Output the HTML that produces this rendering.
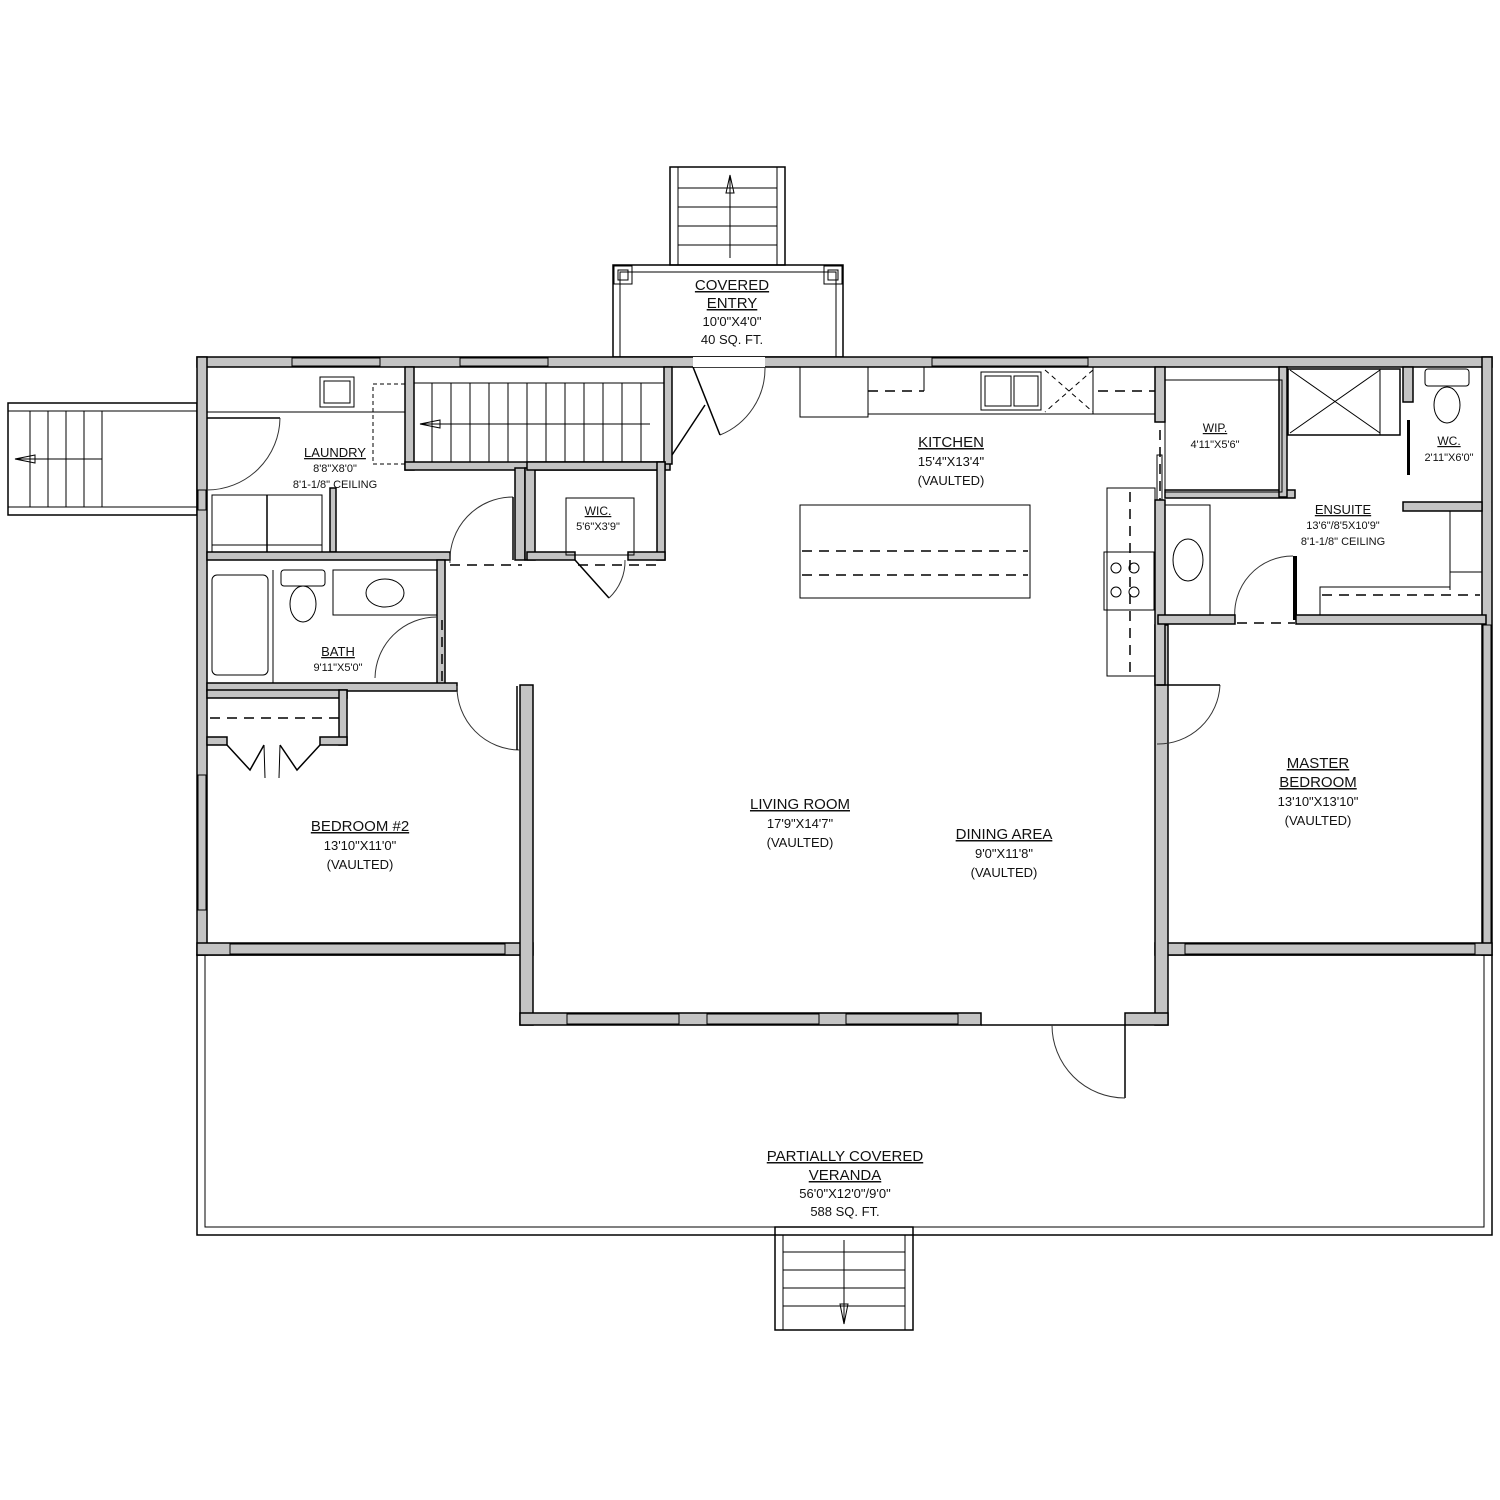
<!DOCTYPE html>
<html><head><meta charset="utf-8"><style>
html,body{margin:0;padding:0;background:#fff}
svg{display:block}
.w{fill:#c4c4c4;stroke:#000;stroke-width:1.5}
.l{fill:none;stroke:#000;stroke-width:1.5}
.t{fill:none;stroke:#000;stroke-width:1}
.d{fill:none;stroke:#000;stroke-width:1.5;stroke-dasharray:10 7}
.a{fill:none;stroke:#333;stroke-width:1}
text{font-family:"Liberation Sans",sans-serif;fill:#111;text-anchor:middle}
.n{font-size:15px;text-decoration:underline}
.s{font-size:13px}
.x{font-size:11px}
</style></head><body>
<svg width="1500" height="1500" viewBox="0 0 1500 1500" xmlns="http://www.w3.org/2000/svg">
<!-- top stairs -->
<rect x="670" y="167" width="115" height="98" class="l"/>
<rect x="670" y="167" width="8" height="98" class="t"/><rect x="777" y="167" width="8" height="98" class="t"/>
<g class="t"><line x1="678" y1="188" x2="777" y2="188"/><line x1="678" y1="207" x2="777" y2="207"/><line x1="678" y1="226" x2="777" y2="226"/><line x1="678" y1="245" x2="777" y2="245"/><line x1="730" y1="175" x2="730" y2="258"/></g>
<path d="M726 193 L730 175 L734 193 Z" class="t"/>
<!-- covered entry -->
<rect x="613" y="265" width="230" height="92" class="l"/>
<rect x="620" y="272" width="216" height="85" class="t"/>
<rect x="614" y="266" width="18" height="18" class="t"/><rect x="618" y="270" width="10" height="10" class="t"/>
<rect x="824" y="266" width="18" height="18" class="t"/><rect x="828" y="270" width="10" height="10" class="t"/>
<!-- left stairs -->
<rect x="8" y="403" width="189" height="112" class="l"/>
<g class="t"><line x1="8" y1="411" x2="197" y2="411"/><line x1="8" y1="507" x2="197" y2="507"/>
<line x1="30" y1="411" x2="30" y2="507"/><line x1="48" y1="411" x2="48" y2="507"/><line x1="66" y1="411" x2="66" y2="507"/><line x1="84" y1="411" x2="84" y2="507"/><line x1="102" y1="411" x2="102" y2="507"/><line x1="102" y1="459" x2="15" y2="459"/></g>
<path d="M35 455 L15 459 L35 463 Z" class="t"/>
<!-- veranda -->
<path d="M520 955 L197 955 L197 1235 L1492 1235 L1492 955 L1168 955" class="l"/>
<path d="M205 955 L205 1227 L1484 1227 L1484 955" class="t"/>
<rect x="775" y="1227" width="138" height="103" class="l"/>
<g class="t"><line x1="783" y1="1235" x2="783" y2="1330"/><line x1="905" y1="1235" x2="905" y2="1330"/>
<line x1="783" y1="1252" x2="905" y2="1252"/><line x1="783" y1="1270" x2="905" y2="1270"/><line x1="783" y1="1288" x2="905" y2="1288"/><line x1="783" y1="1306" x2="905" y2="1306"/><line x1="844" y1="1240" x2="844" y2="1322"/></g>
<path d="M840 1304 L844 1324 L848 1304 Z" class="t"/>
<!-- outer walls -->
<rect x="197" y="357" width="1295" height="10" class="w"/>
<rect x="292" y="358" width="88" height="8" fill="#fff" class="t"/>
<rect x="460" y="358" width="88" height="8" fill="#fff" class="t"/>
<rect x="932" y="358" width="156" height="8" fill="#fff" class="t"/>
<rect x="197" y="357" width="10" height="598" class="w"/>
<rect x="198" y="490" width="8" height="20" fill="#fff" class="t"/>
<rect x="198" y="775" width="8" height="135" fill="#fff" class="t"/>
<rect x="1482" y="357" width="10" height="598" class="w"/>
<rect x="1483" y="625" width="8" height="320" fill="#fff" class="t"/>
<rect x="197" y="943" width="336" height="12" class="w"/>
<rect x="230" y="944" width="275" height="10" fill="#fff" class="t"/>
<rect x="1155" y="943" width="337" height="12" class="w"/>
<rect x="1185" y="944" width="290" height="10" fill="#fff" class="t"/>
<rect x="520" y="685" width="13" height="340" class="w"/>
<rect x="1155" y="625" width="13" height="400" class="w"/>
<rect x="520" y="1013" width="461" height="12" class="w"/>
<rect x="567" y="1014" width="112" height="10" fill="#fff" class="t"/>
<rect x="707" y="1014" width="112" height="10" fill="#fff" class="t"/>
<rect x="846" y="1014" width="112" height="10" fill="#fff" class="t"/>
<rect x="1125" y="1013" width="43" height="12" class="w"/>
<line x1="981" y1="1025" x2="1125" y2="1025" class="l"/>
<line x1="1125" y1="1025" x2="1125" y2="1098" class="l"/>
<path d="M1052 1025 A73 73 0 0 0 1125 1098" class="a"/>
<!-- entry door -->
<path d="M765 367 A72 72 0 0 1 720 435" class="a"/>
<line x1="693" y1="367" x2="720" y2="435" class="l"/>
<rect x="693" y="357" width="72" height="10" fill="#fff"/>
<!-- laundry -->
<rect x="207" y="367" width="198" height="45" class="t"/>
<rect x="320" y="377" width="34" height="30" class="t"/><rect x="324" y="381" width="26" height="22" class="t"/>
<rect x="373" y="384" width="32" height="80" class="t" stroke="#999" stroke-dasharray="4 3"/>
<rect x="405" y="367" width="9" height="103" class="w"/>
<rect x="405" y="462" width="265" height="8" class="w"/>
<rect x="414" y="383" width="250" height="79" class="t"/>
<g class="t"><line x1="432" y1="383" x2="432" y2="462"/><line x1="451" y1="383" x2="451" y2="462"/><line x1="470" y1="383" x2="470" y2="462"/><line x1="489" y1="383" x2="489" y2="462"/><line x1="508" y1="383" x2="508" y2="462"/><line x1="527" y1="383" x2="527" y2="462"/><line x1="546" y1="383" x2="546" y2="462"/><line x1="565" y1="383" x2="565" y2="462"/><line x1="584" y1="383" x2="584" y2="462"/><line x1="603" y1="383" x2="603" y2="462"/><line x1="622" y1="383" x2="622" y2="462"/><line x1="641" y1="383" x2="641" y2="462"/><line x1="420" y1="424" x2="650" y2="424"/></g>
<path d="M440 420 L420 424 L440 428 Z" class="t"/>
<rect x="664" y="367" width="8" height="97" class="w"/>
<line x1="672" y1="455" x2="705" y2="405" class="l"/>
<line x1="207" y1="418" x2="280" y2="418" class="l"/>
<path d="M280 418 A73 73 0 0 1 207 490" class="a"/>
<rect x="212" y="495" width="110" height="57" class="t"/><line x1="267" y1="495" x2="267" y2="552" class="l"/><line x1="212" y1="545" x2="322" y2="545" class="t"/>
<rect x="330" y="488" width="6" height="64" class="w"/>
<rect x="207" y="552" width="243" height="8" class="w"/>
<rect x="515" y="468" width="10" height="92" class="w"/>
<rect x="525" y="468" width="10" height="92" class="w"/>
<rect x="527" y="462" width="138" height="8" class="w"/>
<rect x="657" y="462" width="8" height="98" class="w"/>
<rect x="527" y="552" width="48" height="8" class="w"/><rect x="628" y="552" width="37" height="8" class="w"/>
<rect x="566" y="498" width="68" height="57" class="t"/>
<line x1="575" y1="560" x2="609" y2="598" class="l"/><path d="M609 598 A50 50 0 0 0 625 560" class="a"/>
<path d="M450 563 A63 63 0 0 1 513 497" class="a"/><line x1="513" y1="497" x2="513" y2="560" class="l"/>
<line x1="450" y1="565" x2="522" y2="565" class="d"/><line x1="578" y1="565" x2="657" y2="565" class="d"/>
<!-- bath -->
<rect x="437" y="560" width="8" height="130" class="w"/>
<rect x="207" y="683" width="250" height="8" class="w"/>
<rect x="212" y="575" width="56" height="100" rx="5" class="t"/>
<line x1="273" y1="570" x2="273" y2="683" class="t"/>
<rect x="281" y="570" width="44" height="16" rx="3" class="t"/><ellipse cx="303" cy="604" rx="13" ry="18" class="t"/>
<rect x="333" y="570" width="104" height="45" class="t"/><ellipse cx="385" cy="593" rx="19" ry="14" class="t"/>
<path d="M375 678 A62 62 0 0 1 437 617" class="a"/>
<line x1="442" y1="620" x2="442" y2="683" class="d"/>
<!-- bedroom 2 -->
<rect x="207" y="690" width="140" height="8" class="w"/>
<rect x="339" y="690" width="8" height="55" class="w"/>
<line x1="210" y1="718" x2="339" y2="718" class="d"/>
<rect x="207" y="737" width="20" height="8" class="w"/><rect x="320" y="737" width="27" height="8" class="w"/>
<path d="M227 745 L250 770 L264 745 M320 745 L297 770 L280 745" class="l"/>
<path d="M264 745 L265 778 M280 745 L279 778" class="t"/>
<path d="M457 686 A63 63 0 0 0 520 750" class="a"/><line x1="517" y1="686" x2="517" y2="750" class="l"/>
<!-- kitchen -->
<rect x="800" y="367" width="68" height="50" class="t"/>
<line x1="868" y1="391" x2="924" y2="391" class="d"/><line x1="924" y1="367" x2="924" y2="391" class="t"/>
<line x1="868" y1="414" x2="1155" y2="414" class="t"/>
<rect x="981" y="372" width="60" height="38" class="t"/><rect x="985" y="376" width="26" height="30" class="t"/><rect x="1014" y="376" width="24" height="30" class="t"/>
<path d="M1045 370 L1093 412 M1093 370 L1045 412" stroke="#000" stroke-dasharray="5 4"/>
<line x1="1093" y1="367" x2="1093" y2="414" class="t"/>
<line x1="1098" y1="391" x2="1155" y2="391" class="d"/>
<rect x="800" y="505" width="230" height="93" class="t"/>
<line x1="802" y1="551" x2="1028" y2="551" class="d"/><line x1="802" y1="575" x2="1028" y2="575" class="d"/>
<rect x="1107" y="488" width="48" height="188" class="t"/>
<line x1="1130" y1="492" x2="1130" y2="672" class="d"/>
<rect x="1104" y="552" width="50" height="58" class="t"/>
<circle cx="1116" cy="568" r="5" class="t"/><circle cx="1134" cy="568" r="5" class="t"/><circle cx="1116" cy="592" r="5" class="t"/><circle cx="1134" cy="592" r="5" class="t"/>
<rect x="1155" y="367" width="10" height="55" class="w"/>
<rect x="1155" y="500" width="10" height="185" class="w"/>
<rect x="1157" y="455" width="5" height="45" class="t"/>
<line x1="1160" y1="430" x2="1160" y2="500" class="d"/>
<path d="M1157 744 A62 62 0 0 0 1220 685" class="a"/><line x1="1157" y1="685" x2="1220" y2="685" class="l"/>
<!-- master suite -->
<rect x="1165" y="490" width="130" height="8" class="w"/>
<rect x="1279" y="367" width="8" height="130" class="w"/>
<rect x="1165" y="380" width="117" height="112" class="t"/>
<rect x="1288" y="369" width="112" height="66" class="l"/><path d="M1290 370 L1380 433 M1380 370 L1290 433" class="t"/><line x1="1380" y1="369" x2="1380" y2="435" class="t"/>
<rect x="1403" y="367" width="10" height="35" class="w"/>
<rect x="1407" y="420" width="3" height="55" fill="#000"/>
<rect x="1425" y="369" width="44" height="17" rx="3" class="t"/><ellipse cx="1447" cy="405" rx="13" ry="18" class="t"/>
<rect x="1403" y="502" width="79" height="9" class="w"/>
<line x1="1450" y1="511" x2="1450" y2="590" class="t"/><line x1="1450" y1="572" x2="1482" y2="572" class="t"/>
<path d="M1320 615 L1320 587 L1450 587" class="t"/>
<line x1="1322" y1="595" x2="1480" y2="595" class="d"/>
<rect x="1165" y="505" width="45" height="110" class="t"/><ellipse cx="1188" cy="560" rx="15" ry="21" class="t"/>
<path d="M1235 620 A58 58 0 0 1 1293 556" class="a"/><rect x="1293" y="556" width="4" height="64" fill="#000"/>
<rect x="1158" y="615" width="77" height="9" class="w"/><rect x="1296" y="615" width="190" height="9" class="w"/>
<line x1="1237" y1="623" x2="1295" y2="623" class="d"/>
<!-- labels -->
<text x="732" y="290" class="n">COVERED</text><text x="732" y="308" class="n">ENTRY</text>
<text x="732" y="326" class="s">10'0"X4'0"</text><text x="732" y="344" class="s">40  SQ.  FT.</text>
<text x="335" y="457" class="n" style="font-size:13px">LAUNDRY</text><text x="335" y="472" class="x">8'8"X8'0"</text><text x="335" y="488" class="x">8'1-1/8"  CEILING</text>
<text x="598" y="515" class="n" style="font-size:12px">WIC.</text><text x="598" y="530" class="x">5'6"X3'9"</text>
<text x="338" y="656" class="n" style="font-size:13px">BATH</text><text x="338" y="671" class="x">9'11"X5'0"</text>
<text x="951" y="447" class="n">KITCHEN</text><text x="951" y="466" class="s">15'4"X13'4"</text><text x="951" y="485" class="s">(VAULTED)</text>
<text x="1215" y="432" class="n" style="font-size:12px">WIP.</text><text x="1215" y="448" class="x">4'11"X5'6"</text>
<text x="1449" y="445" class="n" style="font-size:12px">WC.</text><text x="1449" y="461" class="x">2'11"X6'0"</text>
<text x="1343" y="514" class="n" style="font-size:13px">ENSUITE</text><text x="1343" y="529" class="x">13'6"/8'5X10'9"</text><text x="1343" y="545" class="x">8'1-1/8"  CEILING</text>
<text x="360" y="831" class="n">BEDROOM  #2</text><text x="360" y="850" class="s">13'10"X11'0"</text><text x="360" y="869" class="s">(VAULTED)</text>
<text x="800" y="809" class="n">LIVING  ROOM</text><text x="800" y="828" class="s">17'9"X14'7"</text><text x="800" y="847" class="s">(VAULTED)</text>
<text x="1004" y="839" class="n">DINING  AREA</text><text x="1004" y="858" class="s">9'0"X11'8"</text><text x="1004" y="877" class="s">(VAULTED)</text>
<text x="1318" y="768" class="n">MASTER</text><text x="1318" y="787" class="n">BEDROOM</text><text x="1318" y="806" class="s">13'10"X13'10"</text><text x="1318" y="825" class="s">(VAULTED)</text>
<text x="845" y="1161" class="n">PARTIALLY  COVERED</text><text x="845" y="1180" class="n">VERANDA</text><text x="845" y="1198" class="s">56'0"X12'0"/9'0"</text><text x="845" y="1216" class="s">588  SQ.  FT.</text>
</svg>
</body></html>
